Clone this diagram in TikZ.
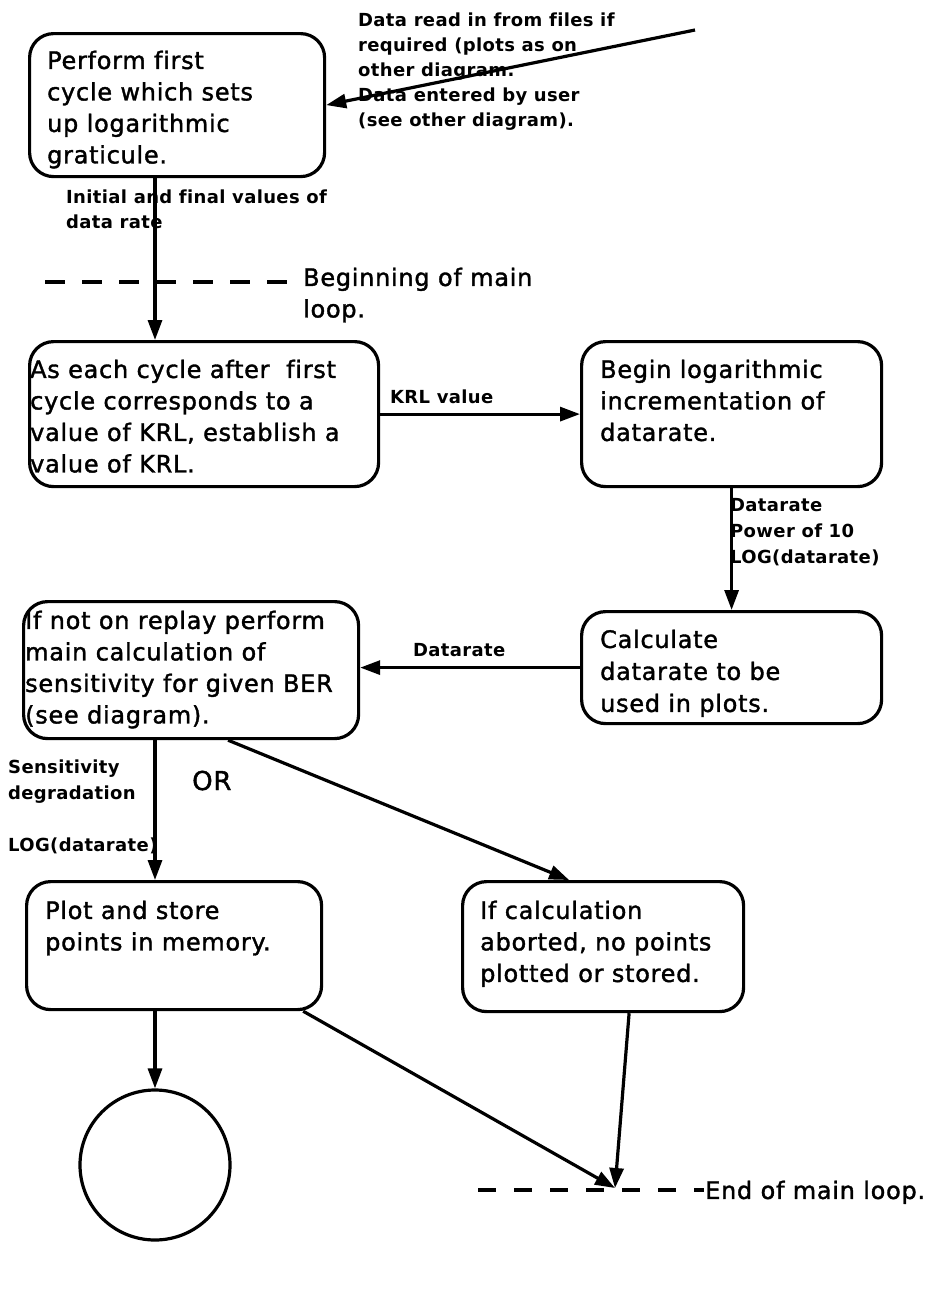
\documentclass[tikz,border=0pt]{standalone}
\usepackage{fontspec}
\setmainfont{DejaVu Sans}[LetterSpace=3, FakeBold=1.5, Ligatures={TeX,NoCommon}]
\newfontfamily\labelfam{DejaVu Sans Bold}[LetterSpace=2, Ligatures={TeX,NoCommon}]
\usetikzlibrary{arrows.meta}

% text sizes (1pt = 1 unit of the drawing)
\newcommand\boxsize{\fontsize{24}{31.5}\selectfont}
\newcommand\lblsize{\labelfam\fontsize{18}{25}\selectfont}

\tikzset{
  stepbox/.style={draw, line width=3.2pt, rounded corners=24pt, inner sep=0pt,
                  anchor=north west},
  boxtext/.style={anchor=north west, inner sep=0pt, align=left, font=\boxsize},
  lbl/.style={anchor=north west, inner sep=0pt, align=left, font=\lblsize},
  arr/.style={line width=3.2pt, -{Triangle[length=20pt,width=14pt]}},
  loopline/.style={line width=3.2pt, dash pattern=on 20pt off 17pt},
}

\begin{document}
\begin{tikzpicture}[x=1pt, y=-1pt]
\useasboundingbox (0,0) rectangle (925,1299);

% process boxes
\node[stepbox, minimum width=295pt, minimum height=143pt] (b1) at (28,32) {};
\node[stepbox, minimum width=349pt, minimum height=145pt] (b2) at (28,340) {};
\node[stepbox, minimum width=300pt, minimum height=145pt] (b3) at (580,340) {};
\node[stepbox, minimum width=300pt, minimum height=112pt] (b4) at (580,610) {};
\node[stepbox, minimum width=335pt, minimum height=137pt] (b5) at (22,600) {};
\node[stepbox, minimum width=295pt, minimum height=128pt] (b6) at (25,880) {};
\node[stepbox, minimum width=281pt, minimum height=130pt] (b7) at (461,880) {};
\node[draw, circle, line width=3.2pt, minimum size=150pt, inner sep=0pt] (stop) at (155,1165) {};

% box texts
\node[boxtext] (t1) at (47,50.5) {Perform first\\cycle which sets\\up logarithmic\\graticule.};
\node[boxtext] (t2) at (30,359.5) {As each cycle after\ \ first\\cycle corresponds to a\\value of KRL, establish a\\value of KRL.};
\node[boxtext] (t3) at (600,359.5) {Begin logarithmic\\incrementation of\\datarate.};
\node[boxtext, font=\fontsize{24}{32}\selectfont] (t4) at (600,629.5) {Calculate\\datarate to be\\used in plots.};
\node[boxtext] (t5) at (25,610.5) {If not on replay perform\\main calculation of\\sensitivity for given BER\\(see diagram).};
\node[boxtext] (t6) at (45,900.5) {Plot and store\\points in memory.};
\node[boxtext] (t7) at (480,900.5) {If calculation\\aborted, no points\\plotted or stored.};

% loop markers
\coordinate (lb1) at (45,282);
\coordinate (lb2) at (290,282);
\draw[loopline] (lb1) -- (lb2);
\node[boxtext] (begin) at (303,267.5) {Beginning of main\\loop.};
\coordinate (le1) at (478,1190);
\coordinate (le2) at (704,1190);
\draw[loopline, dash pattern=on 18pt off 18pt] (le1) -- (le2);
\node[boxtext] (endloop) at (705,1180.5) {End of main loop.};
\coordinate (endpt) at (615,1188);

% connector labels
\node[lbl] (ldata) at (358,12.8) {Data read in from files if\\required (plots as on\\other diagram.\\Data entered by user\\(see other diagram).};
\node[lbl] (linit) at (66,189.8) {Initial and final values of\\data rate};
\node[lbl] (lkrl) at (390,390) {KRL value};
\node[lbl, font=\labelfam\fontsize{18}{26}\selectfont] (lpow) at (730,498) {Datarate\\Power of 10\\LOG(datarate)};
\node[lbl] (ldr) at (413,643) {Datarate};
\node[lbl, font=\labelfam\fontsize{18}{26}\selectfont] (lsens) at (8,760) {Sensitivity\\degradation};
\node[lbl] (llog) at (8,838) {LOG(datarate)};
\node[anchor=north west, inner sep=0pt, font=\fontsize{26}{30}\selectfont] (lor) at (192,770.5) {OR};

% connectors
\coordinate (src) at (695,30);
\coordinate (col) at (155,0);
\draw[arr] (src) -- (b1.east);
\draw[arr] (b1.south -| col) -- (b2.north -| col);
\draw[arr] (b2.east) -- (b3.west);
\draw[arr] (b3.south) -- (b4.north);
\draw[arr] (b4.west) -- (b4.west -| b5.east);
\draw[arr] (b5.south -| col) -- (b6.north -| col);
\draw[arr] ([xshift=37pt]b5.south) -- ([xshift=-34pt]b7.north);
\draw[arr] (b6.south -| col) -- (stop.north);
\draw[arr] ([xshift=-20pt]b6.south east) -- (endpt);
\draw[arr] ([xshift=26pt]b7.south) -- (endpt);
\end{tikzpicture}
\end{document}
